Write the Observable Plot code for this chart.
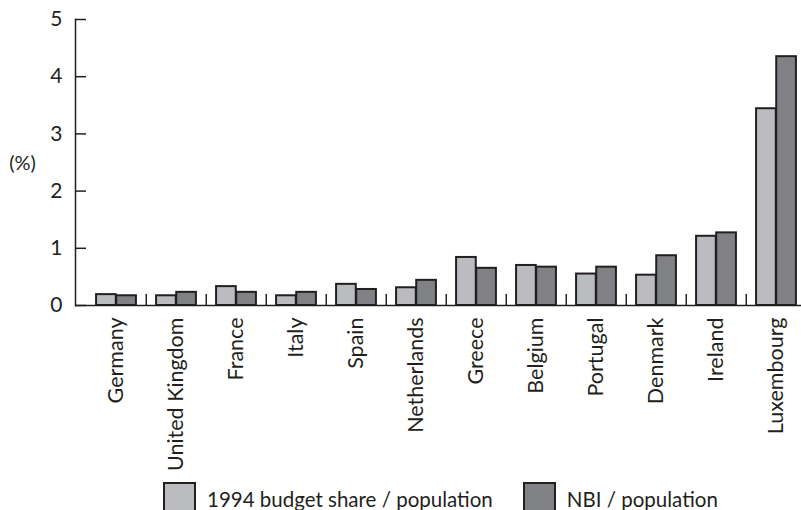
<!DOCTYPE html>
<html>
<head>
<meta charset="utf-8">
<script src="https://cdn.jsdelivr.net/npm/d3@7"></script>
<script src="https://cdn.jsdelivr.net/npm/@observablehq/plot@0.6"></script>
<style>
  body { margin: 0; background: #fff; font-family: Lato, "Open Sans", sans-serif; }
  #wrap { position: relative; width: 801px; height: 510px; overflow: hidden; }
  #chart { position: absolute; left: 0; top: 0; }
  #legend { position: absolute; left: 163px; top: 482px; display: flex; align-items: center; font-size: 20.5px; color: #231f20; }
  .sw { width: 33px; height: 33px; box-sizing: border-box; border: 2px solid #231f20; margin-right: 11px; }
  .item { display: flex; align-items: center; margin-right: 30px; }
</style>
</head>
<body>
<div id="wrap"><div id="chart"></div><div id="legend"></div></div>
<script>
const countries = ["Germany", "United Kingdom", "France", "Italy", "Spain", "Netherlands", "Greece", "Belgium", "Portugal", "Denmark", "Ireland", "Luxembourg"];
const seriesNames = ["1994 budget share / population", "NBI / population"];
const seriesColors = ["#bbbcc0", "#808185"];
const budgetShare = [0.19, 0.17, 0.33, 0.17, 0.37, 0.31, 0.84, 0.70, 0.55, 0.53, 1.21, 3.44];
const nbiShare = [0.17, 0.23, 0.23, 0.23, 0.28, 0.44, 0.65, 0.67, 0.67, 0.87, 1.27, 4.35];
const yTicks = [0, 1, 2, 3, 4, 5];

const W = 801, H = 480, mTop = 19, mBottom = 175, mLeft = 75;
const xStart = 83, xEnd = 808.4;
const step = (xEnd - xStart) / countries.length;
const frameH = H - mTop - mBottom;

const light = countries.map((c, i) => ({country: c, value: budgetShare[i]}));
const dark = countries.map((c, i) => ({country: c, value: nbiShare[i]}));
const ink = "#231f20";
const barW = step / 3;

const chart = Plot.plot({
  width: W, height: H,
  marginTop: mTop, marginBottom: mBottom, marginLeft: mLeft, marginRight: 0,
  style: {fontFamily: "Lato, 'Open Sans', sans-serif", fontSize: "20px", color: ink, background: "transparent"},
  x: {domain: countries, range: [xStart, xEnd], padding: 0, label: null},
  y: {domain: [0, 5], label: null},
  marks: [
    Plot.barY(light, {x: "country", y: "value", fill: seriesColors[0], stroke: ink, strokeWidth: 2,
      insetLeft: step / 2 - barW, insetRight: step / 2}),
    Plot.barY(dark, {x: "country", y: "value", fill: seriesColors[1], stroke: ink, strokeWidth: 2,
      insetLeft: step / 2, insetRight: step / 2 - barW}),
    Plot.ruleX(countries.slice(1), {x: d => d, dx: -step / 2, insetTop: frameH - 11, stroke: ink, strokeWidth: 1.5}),
    Plot.ruleY([0], {stroke: ink, strokeWidth: 1.5}),
    Plot.frame({anchor: "left", stroke: ink, strokeWidth: 1.5}),
    Plot.axisY(yTicks, {anchor: "left", tickSize: -11, tickPadding: 24, tickFormat: d3.format("d"), label: null, fontSize: 21, stroke: ink, strokeWidth: 1.5, fill: ink}),
    Plot.axisX({anchor: "bottom", tickSize: 0, tickPadding: 12, tickRotate: -90, label: null, fontSize: 21.5, fill: ink}),
    Plot.text(["(%)"], {frameAnchor: "left", dx: -53, y: [2.48], text: d => d, fontSize: 20, fill: ink, textAnchor: "middle"})
  ]
});
document.getElementById("chart").appendChild(chart);

const legend = document.getElementById("legend");
seriesNames.forEach((name, i) => {
  const item = document.createElement("div");
  item.className = "item";
  const sw = document.createElement("div");
  sw.className = "sw";
  sw.style.background = seriesColors[i];
  const label = document.createElement("span");
  label.textContent = name;
  item.appendChild(sw);
  item.appendChild(label);
  legend.appendChild(item);
});
</script>
</body>
</html>
